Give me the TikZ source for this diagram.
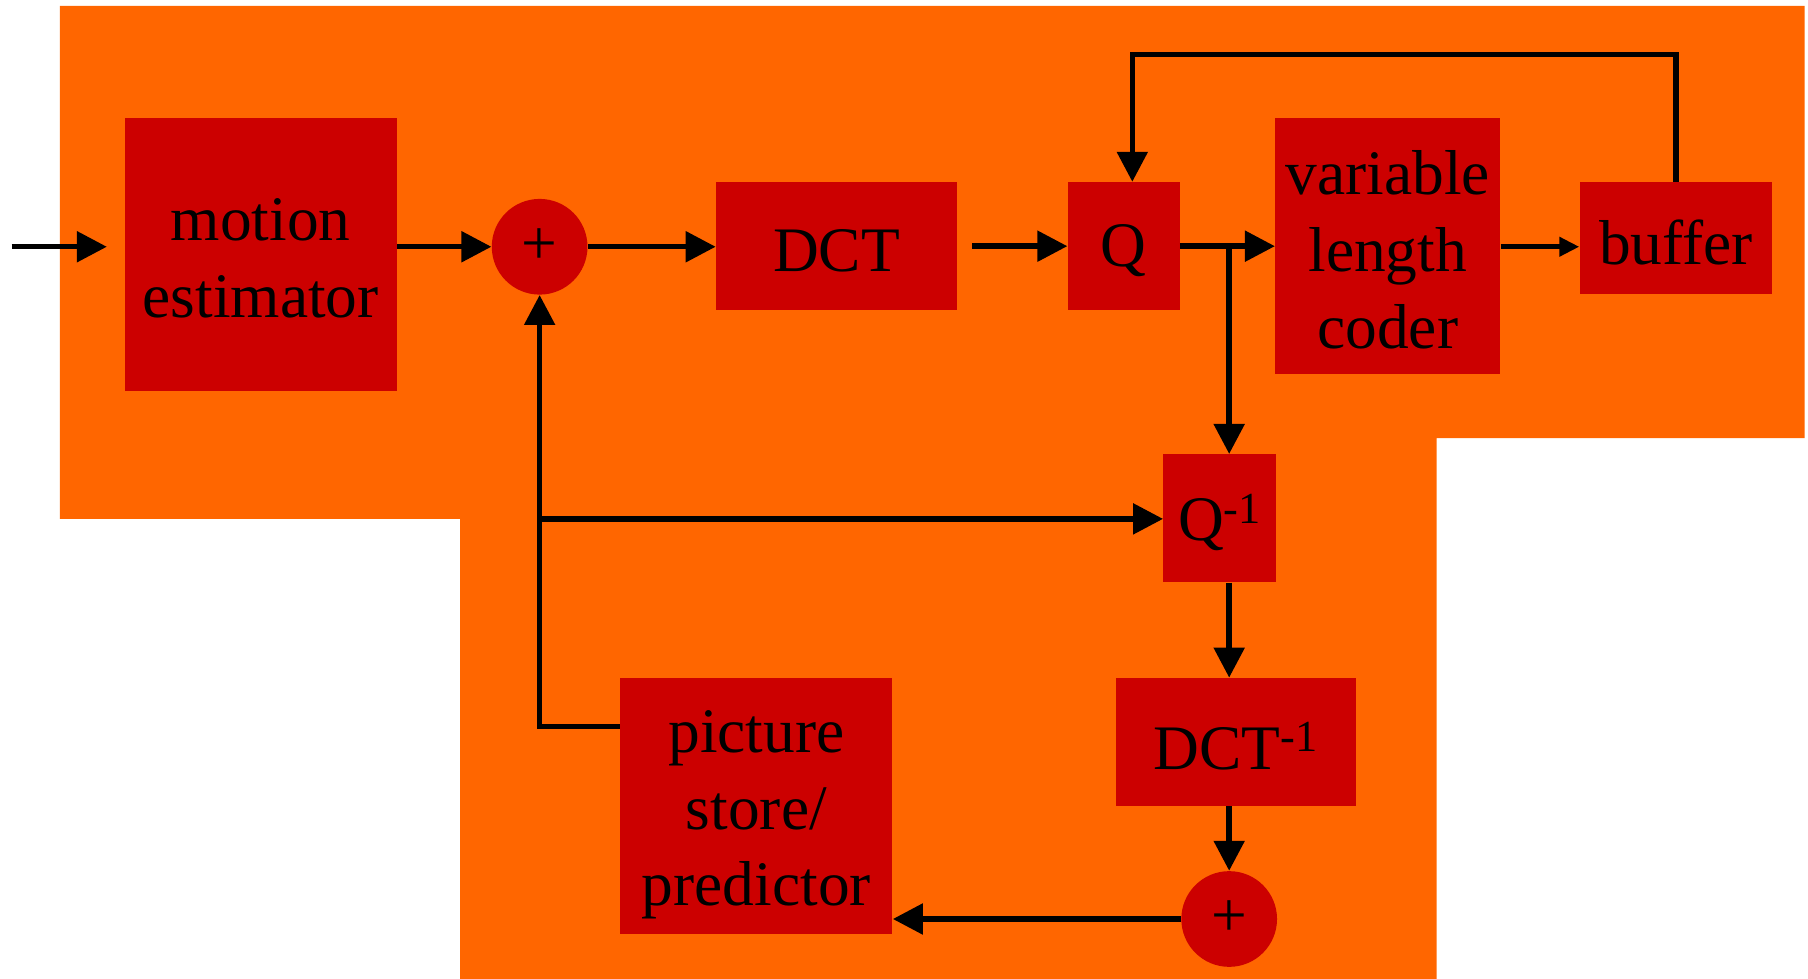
\documentclass[tikz,border=0pt]{standalone}
\usepackage{fontspec}
\setmainfont{Liberation Serif}
\usetikzlibrary{arrows.meta}

\definecolor{bgorange}{HTML}{FF6600}
\definecolor{boxred}{HTML}{CC0000}

\begin{document}
\begin{tikzpicture}[x=0.6pt, y=-0.6pt,
  blk/.style={fill=boxred, inner sep=0pt},
  txt/.style={inner sep=0pt, align=center, font=\fontsize{33}{40}\selectfont},
  sz/.style 2 args={minimum width=#1*0.6pt, minimum height=#2*0.6pt},
  lbl/.style={label={[txt, yshift=-2.2pt]center:{#1}}},
  lbllow/.style={label={[txt, yshift=-4.6pt]center:{#1}}},
  sumnode/.style={circle, fill=boxred, minimum size=83*0.6pt, inner sep=0pt,
    font=\fontsize{33}{40}\selectfont},
  ln/.style={line width=2.8pt, line join=miter},
  arr/.style={ln, -{Triangle[length=15.6pt, width=15.6pt]}},
  arrsmall/.style={ln, -{Triangle[length=10.4pt, width=9.7pt]}}]

  \useasboundingbox (0,0) rectangle (1568,849);

  % orange backdrop
  \fill[bgorange] (52,5) -- (1565,5) -- (1565,380) -- (1246,380)
    -- (1246,849) -- (399,849) -- (399,450) -- (52,450) -- cycle;

  % processing blocks
  \node[blk, sz={236}{237}, lbl={motion\\estimator}]       (me)   at (226,220.5)   {};
  \node[sumnode]                                            (s1)   at (468,214)     {\raisebox{-3.8pt}{+}};
  \node[blk, sz={209}{111}, lbl={DCT}]                      (dct)  at (725.5,213.5) {};
  \node[blk, sz={97}{111},  lbl={Q}]                        (q)    at (974.5,213.5) {};
  \node[blk, sz={195}{222}, lbl={variable\\length\\coder}]  (vlc)  at (1203.5,213)  {};
  \node[blk, sz={167}{97},  lbl={buffer}]                   (buf)  at (1453.5,206.5){};
  \node[blk, sz={98}{111},  lbl={Q\textsuperscript{-1}}]    (qi)   at (1058,449.5)  {};
  \node[blk, sz={208}{111}, lbl={DCT\textsuperscript{-1}}]  (idct) at (1072,643.5)  {};
  \node[sumnode]                                            (s2)   at (1066,797)    {\raisebox{-3.8pt}{+}};
  \node[blk, sz={236}{222}, lbllow={picture\\store/\\predictor}] (ps) at (656,699) {};

  % junction and corner points
  \coordinate (in)  at (10,214);
  \coordinate (br)  at (1066,214);
  \coordinate (top) at (982,47);
  \coordinate (j1)  at (468,450);
  \coordinate (j2)  at (468,630);

  % forward path
  \draw[arr, shorten >=9pt] (in) -- (me.west |- in);
  \draw[arr] (me.east |- s1) -- (s1.west);
  \draw[arr] (s1.east) -- (dct.west |- s1);
  \draw[arr, shorten <=7.8pt] (dct.east) -- (q.west);
  \draw[arr] (q.east) -- (q.east -| vlc.west);
  \draw[arrsmall] (vlc.east |- s1) -- (buf.west |- s1);

  % rate control feedback
  \draw[arr] (buf.north) |- (top) -- (top |- q.north);

  % reconstruction loop
  \draw[arr] (br) -- (br |- qi.north);
  \draw[arr] (br |- qi.south) -- (br |- idct.north);
  \draw[arr] (br |- idct.south) -- (s2.north);
  \draw[arr] (s2.west) -- (ps.east |- s2);
  \draw[arr] (ps.west |- j2) -- (j2) -- (s1.south);
  \draw[arr] (j1) -- (qi.west |- j1);
\end{tikzpicture}
\end{document}
